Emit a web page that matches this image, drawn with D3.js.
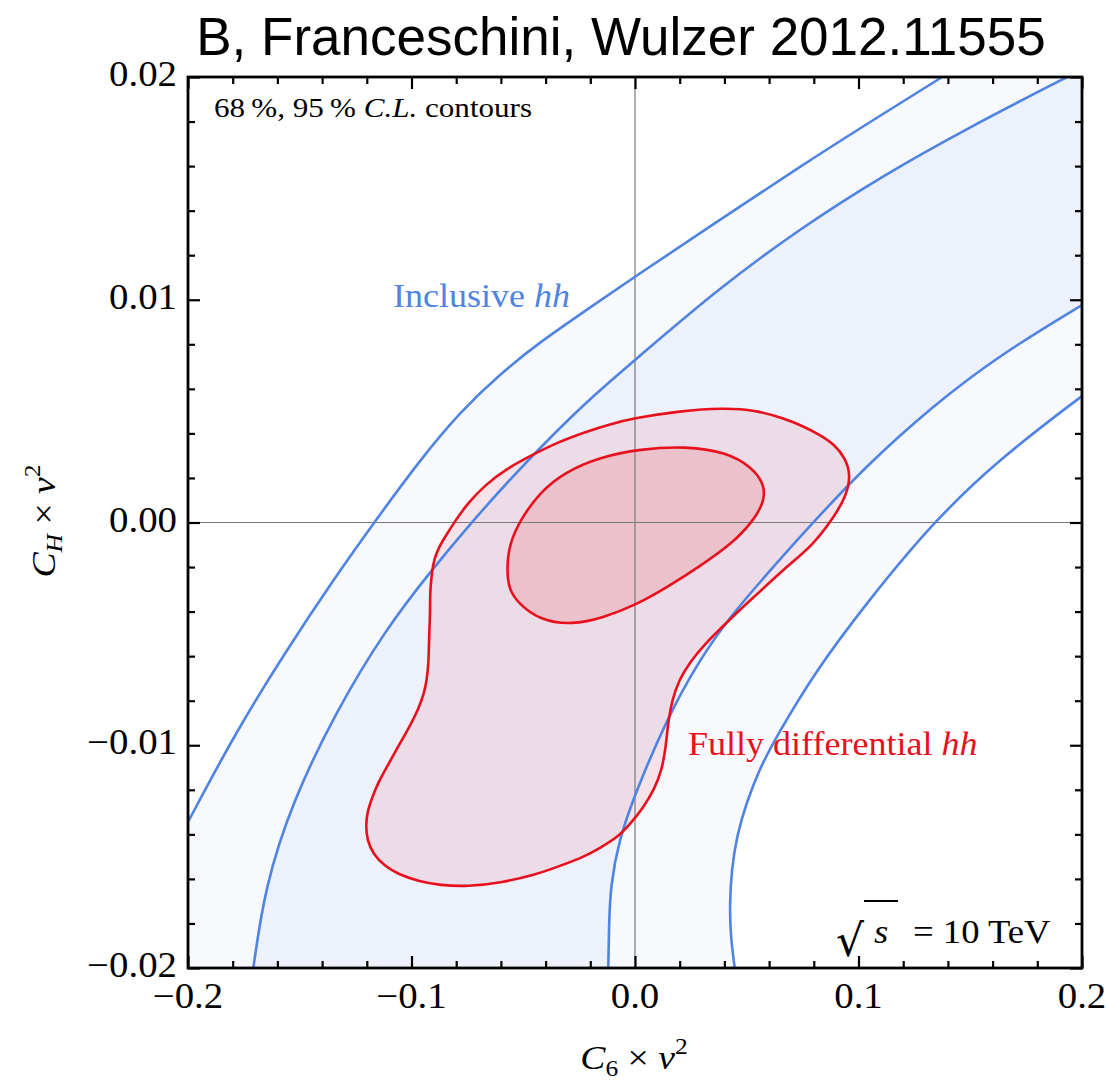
<!DOCTYPE html>
<html>
<head>
<meta charset="utf-8">
<script src="https://cdn.jsdelivr.net/npm/d3@7"></script>
<style>
  html, body { margin: 0; padding: 0; background: #fff; }
  svg { display: block; }
</style>
</head>
<body>
<svg id="chart" width="1108" height="1080"></svg>
<script>
// Inclusive hh: 95% C.L. boundary, upper-left branch  [C6 v^2, CH v^2]
const inclusive95Upper = [
  [-0.2000, -0.013445], [-0.17897, -0.009472], [-0.15660, -0.005836], [-0.13423, -0.002469],
  [-0.11723, -0.000067], [-0.09620, 0.002806], [-0.07830, 0.004961], [-0.06040, 0.006667],
  [-0.04251, 0.008103], [-0.02237, 0.009495], [0.00000, 0.011044], [0.03624, 0.013468],
  [0.07383, 0.015982], [0.10336, 0.017868], [0.13781, 0.020022]
];
// Inclusive hh: 68% C.L. boundary, upper-left branch
const inclusive68Upper = [
  [-0.17078, -0.020000], [-0.16555, -0.016350], [-0.15360, -0.012606], [-0.13423, -0.008563],
  [-0.11186, -0.004826], [-0.09096, -0.002132], [-0.07338, -0.000022], [-0.05503, 0.002043],
  [-0.03669, 0.003951], [-0.01834, 0.005724], [0.00000, 0.007295], [0.03624, 0.010415],
  [0.07383, 0.013199], [0.11096, 0.015578], [0.14810, 0.017666], [0.19329, 0.020000]
];
// Inclusive hh: 68% C.L. boundary, lower-right branch
const inclusive68Lower = [
  [-0.011946, -0.020000], [-0.011633, -0.018070], [-0.010962, -0.016319], [-0.007159, -0.014232],
  [0.000000, -0.012189], [0.014004, -0.008855], [0.028949, -0.006146], [0.042371, -0.004242],
  [0.061745, -0.002003], [0.079195, -0.000045], [0.103356, 0.002536], [0.133333, 0.005244],
  [0.163311, 0.007529], [0.200000, 0.009764]
];
// Inclusive hh: 95% C.L. boundary, lower-right branch
const inclusive95Lower = [
  [0.044609, -0.020000], [0.042729, -0.018519], [0.042371, -0.017172], [0.043177, -0.015600],
  [0.045638, -0.014029], [0.049799, -0.012606], [0.055481, -0.011111], [0.063221, -0.009616],
  [0.081119, -0.006622], [0.103490, -0.003627], [0.133333, 0.000022], [0.163311, 0.002882],
  [0.200000, 0.005679]
];
// Fully differential hh: 95% C.L. closed contour
const differential95 = [
  [0.0966, 0.00213], [0.0944, 0.00114], [0.0881, 0.00011], [0.0792, -0.00105],
  [0.0693, -0.00186], [0.0595, -0.00276], [0.0497, -0.00366], [0.0403, -0.00456],
  [0.0313, -0.00545], [0.0246, -0.00626], [0.0197, -0.00707], [0.0166, -0.00797],
  [0.0148, -0.00896], [0.0139, -0.00999], [0.0121, -0.01111], [0.0085, -0.01201],
  [0.0036, -0.01281], [-0.0018, -0.01349], [-0.0076, -0.01412], [-0.0157, -0.01461],
  [-0.0224, -0.01499], [-0.0336, -0.01542], [-0.0447, -0.01582], [-0.0604, -0.01618],
  [-0.0747, -0.01634], [-0.0872, -0.01629], [-0.0970, -0.01611], [-0.1060, -0.01578],
  [-0.1119, -0.01544], [-0.1172, -0.01488], [-0.1199, -0.01425], [-0.1204, -0.01362],
  [-0.1199, -0.01304], [-0.1177, -0.01237], [-0.1150, -0.01169], [-0.1105, -0.01088],
  [-0.1060, -0.01006], [-0.1011, -0.00921], [-0.0970, -0.00840], [-0.0944, -0.00768],
  [-0.0931, -0.00705], [-0.0924, -0.00629], [-0.0922, -0.00552], [-0.0920, -0.00480],
  [-0.0917, -0.00413], [-0.0917, -0.00345], [-0.0915, -0.00287], [-0.0908, -0.00220],
  [-0.0899, -0.00166], [-0.0877, -0.00110], [-0.0850, -0.00065], [-0.0805, 0.00007],
  [-0.0747, 0.00088], [-0.0671, 0.00168], [-0.0577, 0.00240], [-0.0461, 0.00303],
  [-0.0345, 0.00361], [-0.0224, 0.00406], [-0.0112, 0.00442], [0.0000, 0.00469],
  [0.0201, 0.00501], [0.0394, 0.00514], [0.0537, 0.00505], [0.0662, 0.00469],
  [0.0752, 0.00433], [0.0828, 0.00393], [0.0895, 0.00348], [0.0940, 0.00290]
];
// Fully differential hh: 68% C.L. closed contour
const differential68 = [
  [-0.0574, -0.00211], [-0.0563, -0.00099], [-0.0514, 0.00011], [-0.0425, 0.00137],
  [-0.0313, 0.00227], [-0.0157, 0.00294], [0.0022, 0.00330], [0.0228, 0.00343],
  [0.0407, 0.00316], [0.0523, 0.00249], [0.0581, 0.00168], [0.0577, 0.00092],
  [0.0532, 0.00011], [0.0438, -0.00092], [0.0291, -0.00196], [0.0143, -0.00291],
  [0.0000, -0.00372], [-0.0139, -0.00426], [-0.0282, -0.00460], [-0.0425, -0.00438],
  [-0.0519, -0.00366], [-0.0564, -0.00303]
];

const xTicks = [-0.2, -0.1, 0.0, 0.1, 0.2];
const xTickLabels = ["\u22120.2", "\u22120.1", "0.0", "0.1", "0.2"];
const yTicks = [-0.02, -0.01, 0.0, 0.01, 0.02];
const yTickLabels = ["\u22120.02", "\u22120.01", "0.00", "0.01", "0.02"];
const xMinorTicks = d3.range(-0.2, 0.2001, 0.02);
const yMinorTicks = d3.range(-0.02, 0.02001, 0.002);

const xDomain = [-0.2, 0.2];
const yDomain = [-0.02, 0.02];

// ---- layout ----
const svg = d3.select("#chart");
const L = 188, R = 1082, T = 77, B = 968;
const x = d3.scaleLinear().domain(xDomain).range([L, R]);
const y = d3.scaleLinear().domain(yDomain).range([B, T]);

const BLUE = "#4f84e2";
const RED = "#e8101c";
const SERIF = "'Liberation Serif', 'Times New Roman', serif";
const WIDE = 1.11; // horizontal widening of the serif lettering

svg.append("defs").append("clipPath").attr("id", "plotClip")
  .append("rect").attr("x", L).attr("y", T).attr("width", R - L).attr("height", B - T);

const plot = svg.append("g").attr("clip-path", "url(#plotClip)");

// smooth B-spline through the sampled contour points
const openLine = d3.line().x(d => x(d[0])).y(d => y(d[1])).curve(d3.curveBasis);
const closedLine = d3.line().x(d => x(d[0])).y(d => y(d[1])).curve(d3.curveBasisClosed);

// joins curve segments and straight corner points into one region outline
function band(first, corners1, second, corners2) {
  let p = openLine(first);
  corners1.forEach(c => { p += "L" + x(c[0]) + "," + y(c[1]); });
  p += openLine(second.slice().reverse()).replace(/^M/, "L");
  corners2.forEach(c => { p += "L" + x(c[0]) + "," + y(c[1]); });
  return p + "Z";
}

// inclusive bands: 95% (light) then 68% (deeper)
plot.append("path")
  .attr("d", band(inclusive95Upper, [[0.2, 0.02]], inclusive95Lower, [[-0.2, -0.02]]))
  .attr("fill", "#f8f9fd");
plot.append("path")
  .attr("d", band(inclusive68Upper, [[0.2, 0.02]], inclusive68Lower, []))
  .attr("fill", "#edf1fb");

// differential regions, translucent red
plot.append("path").attr("d", closedLine(differential95))
  .attr("fill", "rgb(235,0,20)").attr("fill-opacity", 0.085);
plot.append("path").attr("d", closedLine(differential68))
  .attr("fill", "rgb(230,0,10)").attr("fill-opacity", 0.12);

// zero reference lines
plot.append("line").attr("x1", x(0)).attr("x2", x(0)).attr("y1", T).attr("y2", B)
  .attr("stroke", "#7a7a7a").attr("stroke-width", 1.2);
plot.append("line").attr("x1", L).attr("x2", R).attr("y1", y(0)).attr("y2", y(0))
  .attr("stroke", "#7a7a7a").attr("stroke-width", 1.2);

// contour lines
[inclusive95Upper, inclusive68Upper, inclusive68Lower, inclusive95Lower].forEach(c => {
  plot.append("path").attr("d", openLine(c))
    .attr("fill", "none").attr("stroke", BLUE).attr("stroke-width", 2.6);
});
[differential95, differential68].forEach(c => {
  plot.append("path").attr("d", closedLine(c))
    .attr("fill", "none").attr("stroke", RED).attr("stroke-width", 2.6);
});

// ---- frame ticks (all four sides, pointing inward) ----
const MAJ = 12, MIN = 7;
const isMajorX = v => xTicks.some(t => Math.abs(t - v) < 1e-9);
const isMajorY = v => yTicks.some(t => Math.abs(t - v) < 1e-9);

const axes = svg.append("g");
function tickAxis(axisFn, scale, values, len, transform) {
  const g = axes.append("g").attr("transform", transform)
    .call(axisFn(scale).tickValues(values).tickSize(len).tickFormat(""));
  g.select(".domain").remove();
  g.selectAll("line").attr("stroke", "#000").attr("stroke-width", 2.2);
}
const xMinor = xMinorTicks.filter(v => !isMajorX(v));
const yMinor = yMinorTicks.filter(v => !isMajorY(v));
tickAxis(d3.axisTop, x, xTicks, MAJ, `translate(0,${B})`);
tickAxis(d3.axisTop, x, xMinor, MIN, `translate(0,${B})`);
tickAxis(d3.axisBottom, x, xTicks, MAJ, `translate(0,${T})`);
tickAxis(d3.axisBottom, x, xMinor, MIN, `translate(0,${T})`);
tickAxis(d3.axisRight, y, yTicks, MAJ, `translate(${L},0)`);
tickAxis(d3.axisRight, y, yMinor, MIN, `translate(${L},0)`);
tickAxis(d3.axisLeft, y, yTicks, MAJ, `translate(${R},0)`);
tickAxis(d3.axisLeft, y, yMinor, MIN, `translate(${R},0)`);

// frame
svg.append("rect").attr("x", L).attr("y", T).attr("width", R - L).attr("height", B - T)
  .attr("fill", "none").attr("stroke", "#000").attr("stroke-width", 2.8);

// serif text placed at (px, py) and widened horizontally
function serifText(px, py, size, anchor) {
  return svg.append("text")
    .attr("transform", `translate(${px},${py}) scale(${WIDE},1)`)
    .attr("text-anchor", anchor || "start")
    .attr("font-family", SERIF).attr("font-size", size);
}

// tick labels
xTicks.forEach((d, i) => serifText(x(d), 1008, 35, "middle").text(xTickLabels[i]));
yTicks.forEach((d, i) => serifText(177, y(d) + 9, 35, "end").text(yTickLabels[i]));

// title
svg.append("text").attr("x", 621).attr("y", 55)
  .attr("text-anchor", "middle")
  .attr("font-family", "'Liberation Sans', Arial, sans-serif").attr("font-size", 53)
  .text("B, Franceschini, Wulzer 2012.11555");

// x-axis label: C6 × v^2
const xl = serifText(634, 1069, 34, "middle");
xl.append("tspan").attr("font-style", "italic").text("C");
xl.append("tspan").attr("font-size", 23).attr("dy", 7).text("6");
xl.append("tspan").attr("dy", -7).text(" \u00d7 ");
xl.append("tspan").attr("font-style", "italic").text("v");
xl.append("tspan").attr("font-size", 23).attr("dy", -15).text("2");

// y-axis label: CH × v^2
const yl = svg.append("text")
  .attr("transform", `translate(55,521) rotate(-90) scale(${WIDE},1)`)
  .attr("text-anchor", "middle").attr("font-family", SERIF).attr("font-size", 34);
yl.append("tspan").attr("font-style", "italic").text("C");
yl.append("tspan").attr("font-style", "italic").attr("font-size", 23).attr("dy", 7).text("H");
yl.append("tspan").attr("dy", -7).text(" \u00d7 ");
yl.append("tspan").attr("font-style", "italic").text("v");
yl.append("tspan").attr("font-size", 23).attr("dy", -15).text("2");

// in-plot annotations
const cl = serifText(214, 117, 28);
cl.append("tspan").text("68\u2009%, 95\u2009% ");
cl.append("tspan").attr("font-style", "italic").text("C.L.");
cl.append("tspan").text(" contours");

const inc = svg.append("text")
  .attr("transform", "translate(393,307) scale(1.06,1)")
  .attr("font-family", SERIF).attr("font-size", 34).attr("fill", BLUE);
inc.append("tspan").text("Inclusive ");
inc.append("tspan").attr("font-style", "italic").text("hh");

const fd = svg.append("text")
  .attr("transform", "translate(688,755) scale(1.06,1)")
  .attr("font-family", SERIF).attr("font-size", 34).attr("fill", RED);
fd.append("tspan").text("Fully differential ");
fd.append("tspan").attr("font-style", "italic").text("hh");

// energy label: √s = 10 TeV
svg.append("text").attr("x", 836).attr("y", 956)
  .attr("font-family", "'DejaVu Serif', serif").attr("font-size", 44)
  .text("\u221a");
svg.append("line").attr("x1", 864).attr("x2", 898).attr("y1", 901).attr("y2", 901)
  .attr("stroke", "#000").attr("stroke-width", 2);
serifText(874, 943, 33).attr("font-style", "italic").text("s");
serifText(913, 943, 33).text("= 10 TeV");
</script>
</body>
</html>
